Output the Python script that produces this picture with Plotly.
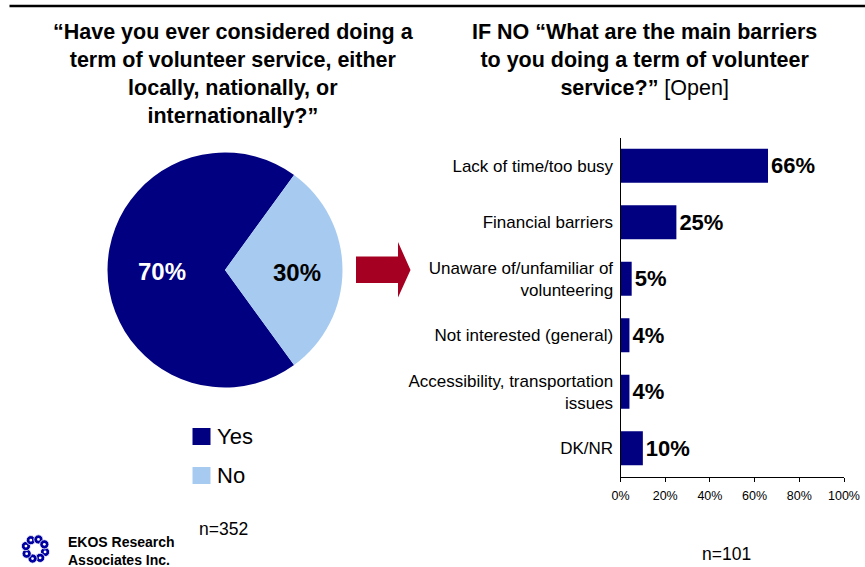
import math
import plotly.graph_objects as go

# Survey data
pie_labels = ["Yes", "No"]
pie_values = [70, 30]
pie_colors = ["#000080", "#A6CAF0"]

barrier_labels = [
    "Lack of time/too busy",
    "Financial barriers",
    "Unaware of/unfamiliar of<br>volunteering",
    "Not interested (general)",
    "Accessibility, transportation<br>issues",
    "DK/NR",
]
barrier_values = [66, 25, 5, 4, 4, 10]
x_ticks = [0, 20, 40, 60, 80, 100]

left_title = ("“Have you ever considered doing a<br>term of volunteer service, either"
              "<br>locally, nationally, or<br>internationally?”")
right_title = ("IF NO “What are the main barriers<br>to you doing a term of volunteer"
               "<br>service?” <span style='font-weight:normal'>[Open]</span>")
pie_n = "n=352"
bar_n = "n=101"

W, H = 865, 567
FONT = "Liberation Sans, Arial, sans-serif"
NAVY = "#000080"


def px(x):
    return x / W


def py(y):
    return 1 - y / H


fig = go.Figure()

# Pie: "Have you ever considered..." (the "No" slice is centred on 3 o'clock)
fig.add_trace(go.Pie(
    labels=pie_labels,
    values=pie_values,
    marker=dict(colors=pie_colors, line=dict(width=0)),
    sort=False,
    direction="clockwise",
    rotation=90 + pie_values[1] / 100 * 360 / 2,
    textinfo="none",
    hoverinfo="label+percent",
    showlegend=False,
    domain=dict(x=[px(107.5), px(342.5)], y=[py(387.5), py(152.5)]),
))

# Horizontal bars: barriers
fig.add_trace(go.Bar(
    x=barrier_values,
    y=barrier_labels,
    orientation="h",
    marker=dict(color=NAVY, line=dict(width=0)),
    width=0.6,
    texttemplate="%{x}%",
    textposition="outside",
    constraintext="none",
    cliponaxis=False,
    textfont=dict(family=FONT, size=22, color="black", weight="bold"),
    showlegend=False,
    xaxis="x",
    yaxis="y",
))

fig.update_layout(
    width=W, height=H, autosize=False,
    margin=dict(l=0, r=0, t=0, b=0),
    paper_bgcolor="white", plot_bgcolor="white",
    font=dict(family=FONT, color="black"),
    xaxis=dict(
        domain=[px(620.5), px(844)],
        range=[0, 100],
        tickvals=x_ticks,
        ticktext=[f"{t}%" for t in x_ticks],
        showline=True, linecolor="black", linewidth=1,
        ticks="outside", ticklen=4, tickcolor="black",
        ticklabelstandoff=3,
        showgrid=False, zeroline=False,
        tickfont=dict(size=12.5, color="black"),
        anchor="y", automargin=False,
    ),
    yaxis=dict(
        domain=[py(476.5), py(137.5)],
        autorange="reversed",
        showline=True, linecolor="black", linewidth=1,
        ticks="outside", ticklen=3, tickcolor="rgba(0,0,0,0)",
        showgrid=False, zeroline=False,
        tickfont=dict(size=17, color="black"),
        anchor="x", automargin=False,
    ),
    bargap=0.4,
)

shapes = []
annotations = []

# Rule across the top
shapes.append(dict(type="rect", xref="paper", yref="paper",
                   x0=px(9.5), x1=px(865), y0=py(7.3), y1=py(4.7),
                   fillcolor="black", line=dict(width=0)))

# Arrow between the two panels
arrow_pts = [(356, 256.5), (398, 256.5), (398, 242), (410.5, 270),
             (398, 297.5), (398, 283), (356, 283)]
path = "M " + " L ".join(f"{px(x)},{py(y)}" for x, y in arrow_pts) + " Z"
shapes.append(dict(type="path", xref="paper", yref="paper", path=path,
                   fillcolor="#A50021", line=dict(width=0)))

# Legend squares for the pie
for i, (lab, col) in enumerate(zip(pie_labels, pie_colors)):
    yc = 436.5 + i * 39
    shapes.append(dict(type="rect", xref="paper", yref="paper",
                       x0=px(192.5), x1=px(210.5), y0=py(yc + 8.5), y1=py(yc - 8.5),
                       fillcolor=col, line=dict(width=0)))
    annotations.append(dict(text=lab, xref="paper", yref="paper",
                            x=px(215), y=py(yc), xanchor="left", yanchor="middle",
                            showarrow=False, font=dict(size=22, color="black")))

# Pie slice values
pie_text_pos = [(162, 271, "white"), (297, 273, "black")]
for v, (x, y, c) in zip(pie_values, pie_text_pos):
    annotations.append(dict(text=f"<b>{v}%</b>", xref="paper", yref="paper",
                            x=px(x), y=py(y), xanchor="center", yanchor="middle",
                            showarrow=False, font=dict(size=24, color=c)))

# Panel titles
annotations.append(dict(text=f"<b>{left_title}</b>", xref="paper", yref="paper",
                        x=px(234), y=py(74), xanchor="center", yanchor="middle",
                        align="center", showarrow=False,
                        font=dict(size=21.5, color="black")))
annotations.append(dict(text=f"<b>{right_title}</b>", xref="paper", yref="paper",
                        x=px(644), y=py(59.5), xanchor="center", yanchor="middle",
                        align="center", showarrow=False,
                        font=dict(size=21.5, color="black")))

# Sample sizes
annotations.append(dict(text=pie_n, xref="paper", yref="paper",
                        x=px(223.5), y=py(529), xanchor="center", yanchor="middle",
                        showarrow=False, font=dict(size=17.5, color="black")))
annotations.append(dict(text=bar_n, xref="paper", yref="paper",
                        x=px(726), y=py(566), xanchor="center", yanchor="bottom",
                        showarrow=False, font=dict(size=17.5, color="black")))

# EKOS logo mark: ring of small blue knots
cx, cy = 35.5, 549
for k in range(8):
    a = 2 * math.pi * k / 8 + 0.3
    bx, by = cx + 10 * math.cos(a), cy + 10 * math.sin(a)
    shapes.append(dict(type="circle", xref="paper", yref="paper",
                       x0=px(bx - 4.6), x1=px(bx + 4.6), y0=py(by + 4.6), y1=py(by - 4.6),
                       fillcolor="#0000A0", line=dict(color="white", width=0.8)))
    shapes.append(dict(type="circle", xref="paper", yref="paper",
                       x0=px(bx - 1.4), x1=px(bx + 1.4), y0=py(by + 1.4), y1=py(by - 1.4),
                       fillcolor="white", line=dict(width=0)))
annotations.append(dict(text="<b>EKOS Research<br>Associates Inc.</b>",
                        xref="paper", yref="paper", x=px(65.5), y=py(550.5),
                        xanchor="left", yanchor="middle", align="left",
                        showarrow=False, font=dict(size=14, color="black")))

fig.update_layout(shapes=shapes, annotations=annotations)

fig.write_html("out.html")
